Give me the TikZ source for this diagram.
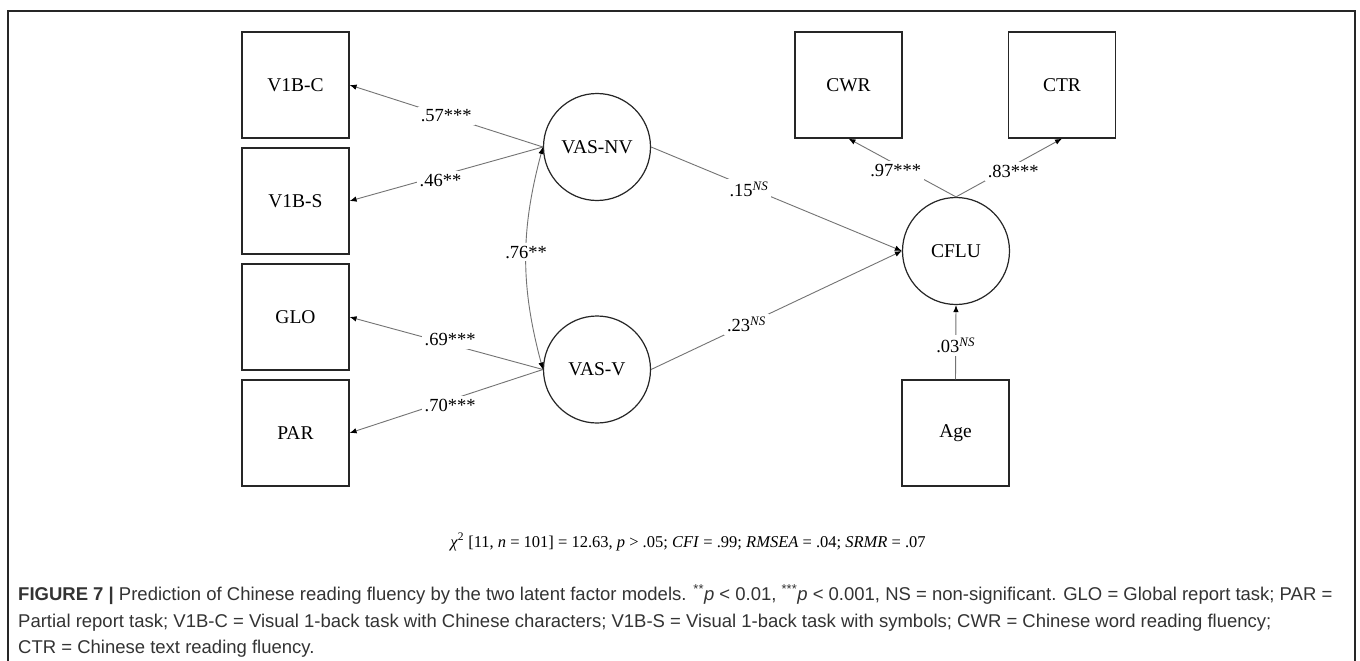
\documentclass[tikz,border=0pt]{standalone}
\usepackage{fontspec}
\setmainfont{Liberation Serif}
\newfontfamily\capsans{Liberation Sans}
\usetikzlibrary{arrows.meta}
\newcommand\diagfont{\fontsize{19.5}{22}\selectfont}
\newcommand\coeffont{\fontsize{18.5}{21}\selectfont}
\newcommand\fitfont{\fontsize{16.5}{20}\selectfont}
\newcommand\captfont{\capsans\fontsize{18.5}{22}\selectfont}
\begin{document}
\begin{tikzpicture}[x=1pt,y=-1pt,
  obs/.style={draw=black!85, line width=1.2pt, minimum width=107pt, minimum height=106pt, inner sep=0pt, font=\diagfont},
  lat/.style={circle, draw=black!85, line width=1.2pt, minimum size=107pt, inner sep=0pt, font=\diagfont},
  link/.style={draw=black!55, line width=0.9pt},
  tip/.style={-{Latex[length=7pt,width=5.5pt,color=black]}},
  twotip/.style={{Latex[length=7pt,width=5.5pt,color=black]}-{Latex[length=7pt,width=5.5pt,color=black]}},
  coef/.style={fill=white, inner sep=3pt, font=\coeffont},
  capline/.style={anchor=base west, inner sep=0pt, font=\captfont, text=black!80}]
\useasboundingbox (0,0) rectangle (1360,661);
\fill[white] (0,0) rectangle (1360,661);
% frame
\draw[line width=1.3pt, black!85] (8,661) -- (8,11) -- (1355,11) -- (1355,661);

% observed indicators
\node[obs] (v1bc) at (295.5,85) {V1B-C};
\node[obs] (v1bs) at (295.5,201) {V1B-S};
\node[obs] (glo)  at (295.5,317) {GLO};
\node[obs] (par)  at (295.5,433) {PAR};
\node[obs] (cwr)  at (848.5,85) {CWR};
\node[obs] (ctr)  at (1062,85) {CTR};
\node[obs] (age)  at (955.5,433) {Age};

% latent factors
\node[lat] (nv)   at (597,147) {VAS-NV};
\node[lat] (vv)   at (597,369.5) {VAS-V};
\node[lat] (cflu) at (956,251) {CFLU};

% loadings
\draw[link,tip] (nv.west) -- (v1bc.east) node[coef,pos=.5] {.57***};
\draw[link,tip] (nv.west) -- (v1bs.east) node[coef,pos=.53,yshift=-5pt] {.46**};
\draw[link,tip] (vv.west) -- (glo.east) node[coef,pos=.48,yshift=5pt] {.69***};
\draw[link,tip] (vv.west) -- (par.east) node[coef,pos=.48,yshift=-5pt] {.70***};
\draw[link,tip] (cflu.north) -- (cwr.south) node[coef,pos=.56,yshift=-6pt] {.97***};
\draw[link,tip] (cflu.north) -- (ctr.south) node[coef,pos=.54,yshift=-6pt] {.83***};

% factor correlation
\draw[link,twotip] (nv.west) to[bend right=15] node[coef,pos=.47] {.76**} (vv.west);

% structural paths
\draw[link,tip] (nv.east) -- (cflu.west) node[coef,pos=.39,yshift=-2pt] {.15\textsuperscript{\textit{NS}}};
\draw[link,tip] (vv.east) -- (cflu.west) node[coef,pos=.38] {.23\textsuperscript{\textit{NS}}};
\draw[link,tip] (age.north) -- (cflu.south) node[coef,pos=.46] {.03\textsuperscript{\textit{NS}}};

% model fit
\node[anchor=base, inner sep=0pt, font=\fitfont] (fit) at (688,547)
  {\textit{χ}\textsuperscript{2} [11, \textit{n} = 101] = 12.63, \textit{p} > .05; \textit{CFI} = .99; \textit{RMSEA} = .04; \textit{SRMR} = .07};

% caption
\node[capline] (cap1) at (18,600) {\textbf{FIGURE 7 |} Prediction of Chinese reading fluency by the two latent factor models. \textsuperscript{**}\textit{p} < 0.01, \textsuperscript{***}\textit{p} < 0.001, NS = non-significant. GLO = Global report task; PAR =};
\node[capline] (cap2) at (18,627) {Partial report task; V1B-C = Visual 1-back task with Chinese characters; V1B-S = Visual 1-back task with symbols; CWR = Chinese word reading fluency;};
\node[capline] (cap3) at (18,653) {CTR = Chinese text reading fluency.};
\end{tikzpicture}
\end{document}
